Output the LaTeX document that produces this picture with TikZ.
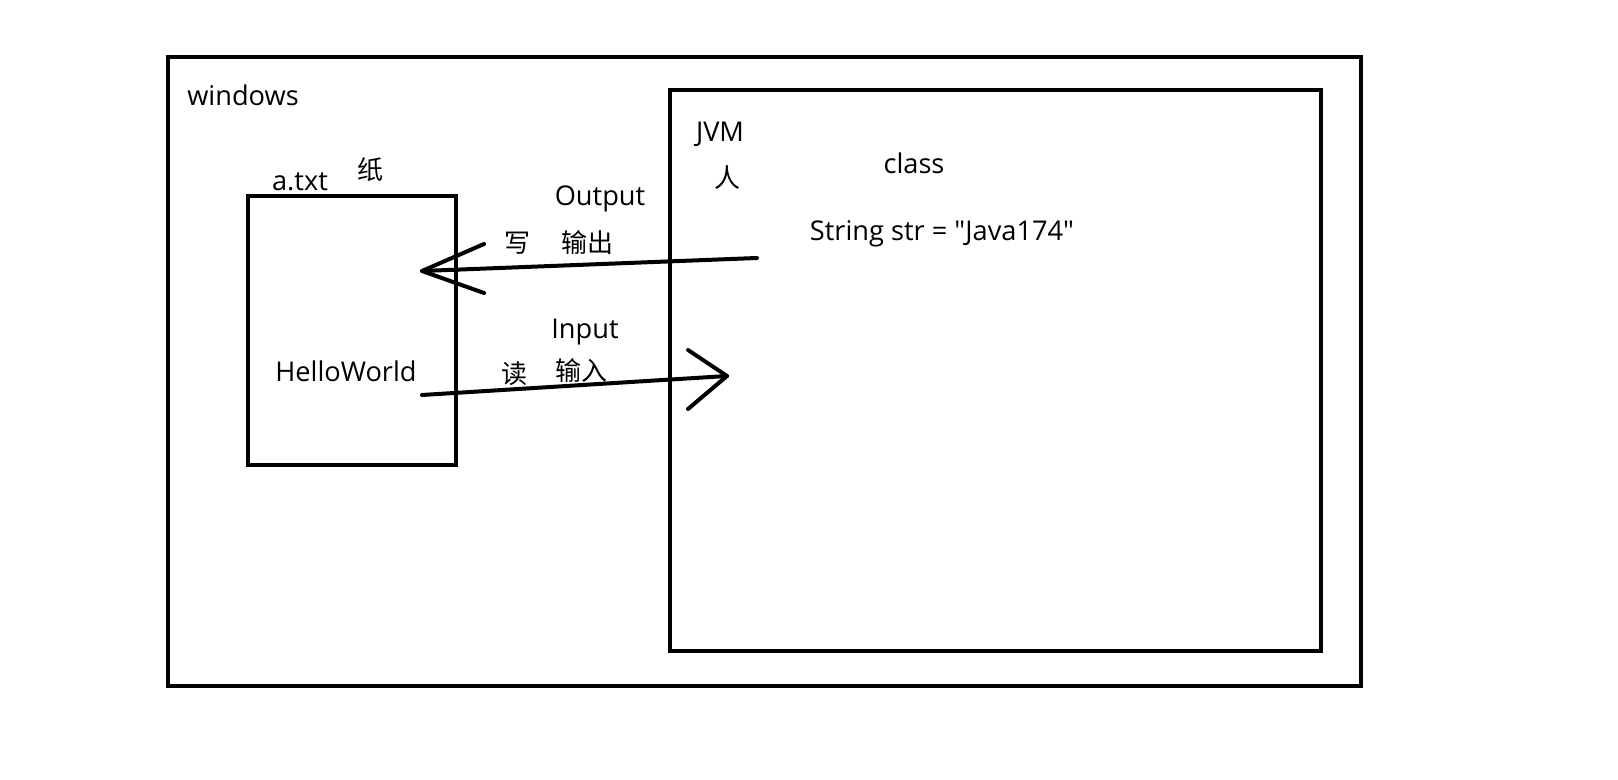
\documentclass[tikz,border=0pt]{standalone}
\usepackage{fontspec}
\setmainfont{Open Sans}
\newfontfamily\cjk{Noto Sans CJK SC}
\begin{document}
\begin{tikzpicture}[x=0.5pt,y=-0.5pt,
  box/.style={draw=black,line width=2.25pt},
  conn/.style={draw=black,line width=2pt,line cap=round,line join=round},
  lbl/.style={font=\fontsize{13.6}{16}\selectfont,inner sep=0pt,text=black},
  zh/.style={font=\cjk\fontsize{13}{16}\selectfont,inner sep=0pt,text=black}]
\path[use as bounding box,fill=white] (0,0) rectangle (1618,780);
\draw[box] (168,57) rectangle (1361,686);
\draw[box] (670,90) rectangle (1321,651);
\draw[box] (248,196) rectangle (456,465);
\node[lbl] (win) at (243,95) {windows};
\node[lbl] (atxt) at (300,182) {a.txt};
\node[zh] (zhi) at (370,170) {纸};
\node[lbl] (hw) at (346,371) {HelloWorld};
\node[lbl] (jvm) at (720,134) {JVM};
\node[zh] (ren) at (727,178) {人};
\node[lbl] (cls) at (914,163) {class};
\node[lbl] (str) at (942,234) {String str = \textquotedbl Java174\textquotedbl};
\node[lbl] (out) at (600,199) {Output};
\node[zh] (xie) at (517,243) {写};
\node[zh] (sc) at (587,243) {输出};
\node[lbl] (inp) at (585,332) {Input};
\node[zh] (du) at (514,374) {读};
\node[zh] (sr) at (581,371) {输入};
\coordinate (o1) at (757,258);
\coordinate (o2) at (422,271);
\coordinate (oa) at (484,244);
\coordinate (ob) at (484,293);
\coordinate (i1) at (422,395);
\coordinate (i2) at (727,376);
\coordinate (ia) at (688,350);
\coordinate (ib) at (688,409);
\draw[conn] (o1) -- (o2);
\draw[conn] (oa) -- (o2) -- (ob);
\draw[conn] (i1) -- (i2);
\draw[conn] (ia) -- (i2) -- (ib);
\end{tikzpicture}
\end{document}
